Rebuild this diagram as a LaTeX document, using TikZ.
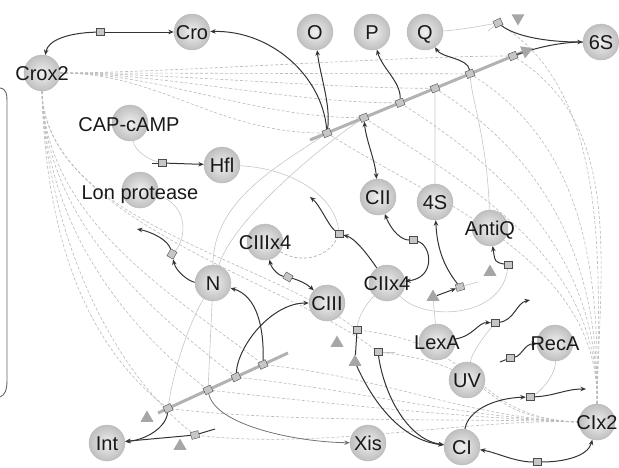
\documentclass[tikz,border=0pt]{standalone}
\usepackage{fontspec}
\setmainfont{Liberation Sans}
\usetikzlibrary{arrows.meta,shapes.geometric,calc,backgrounds}
\begin{document}
\begin{tikzpicture}[x=1pt,y=-1pt,
  sp/.style={circle,minimum size=36pt,inner sep=0pt,inner color=gray!12,outer color=gray!50,draw=gray!55,line width=0.4pt},
  lbl/.style={inner sep=0pt,font=\fontsize{20}{22}\selectfont,text=black!90,text height=14.3pt,text depth=0pt},
  pbox/.style={rectangle,minimum width=8pt,minimum height=7pt,inner sep=0pt,fill=gray!45,draw=gray!60!black,line width=0.4pt},
  tri/.style={regular polygon,regular polygon sides=3,minimum size=15pt,inner sep=0pt,fill=gray!70,draw=none},
  rx/.style={draw=black!80,line width=1pt},
  xs/.style={draw=black!55,line width=0.8pt},
  mod/.style={draw=gray!45,line width=0.6pt},
  dsh/.style={draw=gray!55,line width=0.6pt,dash pattern=on 3pt off 2pt},
  mainl/.style={draw=gray!60,line width=3pt},
  fw/.style={-{Stealth[length=5.5pt,width=4.5pt]}},
  bw/.style={{Stealth[length=5.5pt,width=4.5pt]}-},
  bd/.style={{Stealth[length=5.5pt,width=4.5pt]}-{Stealth[length=5.5pt,width=4.5pt]}}
]
\useasboundingbox (0,0) rectangle (619,467);

% bracket on the left
\draw[black!60,line width=0.9pt] (0,88) .. controls (7,89) and (7,95) .. (7,104) -- (7,380) .. controls (7,390) and (5,395) .. (0,397);

% species
\node[sp] (cro) at (192,32) {};
\node[sp] (crox2) at (42,73) {};
\node[sp] (cap) at (130,123) {};
\node[sp] (hfl) at (222,165) {};
\node[sp] (lon) at (140,190) {};
\node[sp] (o) at (315,32) {};
\node[sp] (p) at (372,32) {};
\node[sp] (q) at (425,32) {};
\node[sp] (s6) at (601,42) {};
\node[sp] (cii) at (378,197) {};
\node[sp] (s4) at (435,202) {};
\node[sp] (antiq) at (490,228) {};
\node[sp] (ciiix4) at (265,242) {};
\node[sp] (n) at (213,283) {};
\node[sp] (ciix4) at (387,283) {};
\node[sp] (ciii) at (327,303) {};
\node[sp] (lexa) at (437,342) {};
\node[sp] (reca) at (555,343) {};
\node[sp] (uv) at (467,380) {};
\node[sp] (int) at (107,443) {};
\node[sp] (xis) at (368,443) {};
\node[sp] (ci) at (462,447) {};
\node[sp] (cix2) at (597,422) {};

\node[lbl] (cro-t) at (cro) {Cro};
\node[lbl] (crox2-t) at (crox2) {Crox2};
\node[lbl] (cap-t) at (129,124) {CAP-cAMP};
\node[lbl] (hfl-t) at (hfl) {Hfl};
\node[lbl] (lon-t) at (140,192) {Lon protease};
\node[lbl] (o-t) at (o) {O};
\node[lbl] (p-t) at (p) {P};
\node[lbl] (q-t) at (q) {Q};
\node[lbl] (s6-t) at (s6) {6S};
\node[lbl] (cii-t) at (cii) {CII};
\node[lbl] (s4-t) at (s4) {4S};
\node[lbl] (antiq-t) at (antiq) {AntiQ};
\node[lbl] (ciiix4-t) at (ciiix4) {CIIIx4};
\node[lbl] (n-t) at (n) {N};
\node[lbl] (ciix4-t) at (ciix4) {CIIx4};
\node[lbl] (ciii-t) at (ciii) {CIII};
\node[lbl] (lexa-t) at (lexa) {LexA};
\node[lbl] (reca-t) at (reca) {RecA};
\node[lbl] (uv-t) at (uv) {UV};
\node[lbl] (int-t) at (int) {Int};
\node[lbl] (xis-t) at (xis) {Xis};
\node[lbl] (ci-t) at (ci) {CI};
\node[lbl] (cix2-t) at (cix2) {CIx2};

% process boxes on upper transcription line
\coordinate (ua) at (310,140);
\coordinate (ub) at (530,49);
\node[pbox,rotate=22] (b1) at (327,133) {};
\node[pbox,rotate=22] (b2) at (364,117.7) {};
\node[pbox,rotate=22] (b3) at (400,102.8) {};
\node[pbox,rotate=22] (b4) at (435,88.3) {};
\node[pbox,rotate=22] (b5) at (470,73.8) {};
\node[pbox,rotate=22] (b6) at (513,56) {};
\node[tri,rotate=-68] (tu) at (526,51) {};
% lower transcription line
\coordinate (la) at (158,413);
\coordinate (lz) at (288,353);
\node[pbox,rotate=25] (c1) at (168,408.4) {};
\node[pbox,rotate=25] (c2) at (208,389.9) {};
\node[pbox,rotate=25] (c3) at (236,377) {};
\node[pbox,rotate=25] (c4) at (263,364.5) {};
\node[tri] (tl) at (147,418) {};

% other process boxes
\node[pbox,rotate=25] (u) at (498,23) {};
\node[tri,rotate=180] (tq) at (518,18) {};
\coordinate (us) at (488,31);
\node[pbox] (cb) at (100,32) {};
\node[pbox] (hb) at (162,163) {};
\coordinate (hbs) at (152,163);
\node[pbox,rotate=60] (nd) at (172,254) {};
\coordinate (ndo) at (137,229);
\node[pbox,rotate=-30] (tb) at (288,277) {};
\node[pbox] (cd) at (339,234) {};
\coordinate (cdo) at (310,197);
\node[pbox] (kb) at (413,240) {};
\node[pbox,rotate=15] (sb) at (460,287) {};
\node[tri] (st) at (433,297) {};
\coordinate (sbs) at (478,282);
\node[pbox] (ab) at (508,265) {};
\node[tri] (ta) at (490,272) {};
\node[pbox] (lb) at (495,323) {};
\coordinate (lbo) at (530,300);
\node[pbox] (rb) at (510,358) {};
\coordinate (rbs) at (500,362);
\node[pbox] (cb2) at (530,397) {};
\coordinate (cbo) at (586,389);
\node[pbox] (cx) at (537,462) {};
\node[pbox,rotate=15] (ib) at (195,435) {};
\coordinate (ibs) at (215,429);
\node[tri] (ti) at (180,446) {};
\node[pbox] (pv) at (357,330) {};
\node[tri] (t1) at (337,343) {};
\node[tri] (t2) at (355,362) {};
\node[pbox] (pb) at (378,352) {};
\coordinate (pbs) at (395,352);

\begin{pgfonlayer}{background}
% dashed inhibition fans
\foreach \t in {b1,b2,b3,b4,b5,b6}
  \draw[dsh] (crox2.east) .. controls (160,73) and ($(\t)+(-110,0)$) .. (\t);
\foreach \t in {c1,c2,c3,c4,pv,pb,ib}
  \draw[dsh] (crox2.south) .. controls (45,220) and ($(\t)+(-90,-70)$) .. (\t);
\foreach \t in {b1,b2,b3,b4,b5,b6,u}
  \draw[dsh] (cix2.north) .. controls (600,260) and ($(\t)+(110,70)$) .. (\t);
\foreach \t in {c1,c2,c3,c4,pv,pb,ib}
  \draw[dsh] (cix2.west) .. controls (470,418) and ($(\t)+(130,15)$) .. (\t);
\draw[dsh,draw=gray!70] (ciiix4) .. controls (300,264) and (328,258) .. (cd);

% thin modifier lines
\draw[mod] (cap) .. controls (135,152) and (150,160) .. (hb);
\draw[mod] (lon) .. controls (190,205) and (186,240) .. (nd);
\draw[mod] (hfl) .. controls (290,168) and (335,195) .. (cd);
\draw[mod] (q) .. controls (460,30) and (480,26) .. (u);
\draw[mod] (us) -- (u);
\draw[mod] (s4) -- (b4);
\draw[mod] (antiq) .. controls (487,140) and (472,100) .. (b5);
\draw[mod] (n) -- (c2);
\draw[mod] (n) .. controls (185,330) and (172,380) .. (c1);
\draw[mod] (n) .. controls (213,200) and (280,165) .. (b1);
\draw[mod] (n) .. controls (235,215) and (330,140) .. (b2);
\draw[mod] (lexa) -- (st);
\draw[mod] (uv) .. controls (472,352) and (485,335) .. (lb);
\draw[mod] (reca) .. controls (556,375) and (540,392) .. (cb2);
\draw[mod] (ciix4) .. controls (425,322) and (502,318) .. (ab);
\draw[mod] (ciix4) .. controls (365,305) and (358,318) .. (pv);
\draw[mod] (sb) -- (sbs);
\draw[mod] (pb) -- (pbs);

% transcription lines
\draw[mainl] (ua) -- (ub);
\draw[mainl] (la) -- (lz);

% reactions
\draw[rx,fw] (cb) -- (cro);
\draw[rx,fw] (cb) .. controls (68,33) and (48,40) .. (crox2);
\draw[rx,bw] (cro) .. controls (270,30) and (322,75) .. (b1);
\draw[rx,bw] (o) .. controls (320,75) and (331,105) .. (b1);
\draw[rx,bd] (b2) .. controls (366,140) and (375,160) .. (cii);
\draw[rx,bw] (p) .. controls (382,68) and (401,82) .. (b3);
\draw[rx,bw] (q) .. controls (442,58) and (468,58) .. (b5);
\draw[rx] (b6) .. controls (535,48) and (560,42) .. (s6);
\draw[rx,fw] (u) .. controls (515,36) and (545,42) .. (s6);
\draw[rx,bw] (int) .. controls (145,440) and (166,428) .. (c1);
\draw[rx,bw] (int) -- (ib);
\draw[rx] (ib) -- (ibs);
\draw[rx,bw] (ciii) .. controls (272,303) and (238,345) .. (c3);
\draw[rx,bw] (n) .. controls (258,296) and (264,330) .. (c4);
\draw[xs,bw] (xis) .. controls (295,442) and (215,425) .. (c2);
\draw[rx,fw] (n) .. controls (190,282) and (176,272) .. (nd);
\draw[rx,fw] (nd) .. controls (168,240) and (152,232) .. (ndo);
\draw[rx] (hbs) -- (hb);
\draw[rx,fw] (hb) -- (hfl);
\draw[rx,bw] (ciiix4) .. controls (272,270) and (280,276) .. (tb);
\draw[rx,fw] (tb) .. controls (298,280) and (306,283) .. (ciii);
\draw[rx,fw] (ciix4) .. controls (368,255) and (355,238) .. (cd);
\draw[rx,fw] (cd) .. controls (328,225) and (320,205) .. (cdo);
\draw[rx,bw] (cii) .. controls (392,232) and (402,240) .. (kb);
\draw[rx,fw] (kb) .. controls (432,245) and (436,278) .. (ciix4);
\draw[rx,fw] (st) -- (sb);
\draw[rx,fw] (sb) .. controls (445,268) and (437,250) .. (s4);
\draw[rx,fw] (ab) .. controls (495,262) .. (antiq);
\draw[rx,fw] (lexa) .. controls (474,336) and (478,322) .. (lb);
\draw[rx,fw] (lb) .. controls (515,320) and (516,303) .. (lbo);
\draw[rx] (rbs) -- (rb);
\draw[rx,fw] (rb) .. controls (522,356) and (524,344) .. (reca);
\draw[rx,fw] (ci) .. controls (468,410) and (495,398) .. (cb2);
\draw[rx,fw] (cb2) .. controls (555,396) and (565,389) .. (cbo);
\draw[rx,bw] (ci) .. controls (495,452) and (515,462) .. (cx);
\draw[rx,fw] (cx) .. controls (565,462) and (588,456) .. (cix2);
\draw[rx] (pv) -- (t2);
\draw[rx,fw] (t2) .. controls (372,400) and (400,440) .. (ci);
\draw[rx,fw] (pb) .. controls (384,395) and (408,440) .. (ci);
\end{pgfonlayer}
\end{tikzpicture}
\end{document}
